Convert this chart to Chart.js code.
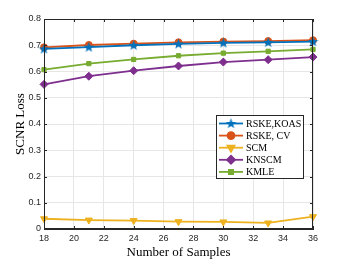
<!DOCTYPE html>
<html>
<head>
<meta charset="utf-8">
<script src="https://cdn.jsdelivr.net/npm/chart.js@4"></script>
<style>
  html, body { margin: 0; padding: 0; background: #fff; }
  #wrap { width: 346px; height: 260px; }
</style>
</head>
<body>
<div id="wrap"><canvas id="chart" width="346" height="260"></canvas></div>
<script>
// samples on the x axis
const samples = [18, 21, 24, 27, 30, 33, 36];
const seriesNames = ['RSKE,KOAS', 'RSKE, CV', 'SCM', 'KNSCM', 'KMLE'];
const rskeKoas = [0.686, 0.693, 0.700, 0.705, 0.709, 0.711, 0.714];
const rskeCv = [0.692, 0.701, 0.706, 0.711, 0.714, 0.716, 0.719];
const scm = [0.039, 0.034, 0.032, 0.028, 0.027, 0.023, 0.047];
const knscm = [0.551, 0.582, 0.603, 0.621, 0.636, 0.645, 0.655];
const kmle = [0.607, 0.630, 0.646, 0.660, 0.670, 0.677, 0.684];
const xTicks = [18, 20, 22, 24, 26, 28, 30, 32, 34, 36];
const yTicks = [0, 0.1, 0.2, 0.3, 0.4, 0.5, 0.6, 0.7, 0.8];

const colors = ['#0072BD', '#D95319', '#EDB120', '#7E2F8E', '#77AC30'];

// five point star as an image, chart.js has no pentagram
function makeStar(color) {
    const c = document.createElement('canvas');
    c.width = 11; c.height = 11;
    const g = c.getContext('2d');
    g.fillStyle = color;
    g.beginPath();
    for (let i = 0; i < 10; i++) {
        const r = i % 2 === 0 ? 5.5 : 2.3;
        const a = -Math.PI / 2 + i * Math.PI / 5;
        const px = 5.5 + r * Math.cos(a), py = 5.8 + r * Math.sin(a);
        if (i === 0) g.moveTo(px, py); else g.lineTo(px, py);
    }
    g.closePath();
    g.fill();
    return c;
}
const star = makeStar(colors[0]);

function toPts(arr) {
    return samples.map((s, i) => ({ x: s, y: arr[i] }));
}

const values = [rskeKoas, rskeCv, scm, knscm, kmle];
const styles = [star, 'circle', 'triangle', 'rectRot', 'rect'];
const rotations = [0, 0, 180, 0, 0];
const radii = [5, 3.5, 4, 4, 3];

const datasets = values.map((v, i) => ({
    label: seriesNames[i],
    data: toPts(v),
    borderColor: colors[i],
    backgroundColor: colors[i],
    borderWidth: 1.8,
    pointStyle: styles[i],
    pointRotation: rotations[i],
    pointRadius: radii[i],
    pointBorderWidth: 1,
    tension: 0,
    clip: false
}));

// box around the axes, inside ticks and the legend with line + marker
const matlabBox = {
    id: 'matlabBox',
    afterDraw(chart) {
        const ctx = chart.ctx;
        const a = chart.chartArea;
        const xs = chart.scales.x, ys = chart.scales.y;
        ctx.save();
        ctx.strokeStyle = '#262626';
        ctx.lineWidth = 1;
        ctx.strokeRect(a.left + 0.5, a.top + 0.5, a.right - a.left - 1, a.bottom - a.top - 1);
        ctx.beginPath();
        xTicks.forEach(t => {
            const px = Math.round(xs.getPixelForValue(t)) + 0.5;
            ctx.moveTo(px, a.bottom); ctx.lineTo(px, a.bottom - 3);
            ctx.moveTo(px, a.top); ctx.lineTo(px, a.top + 3);
        });
        yTicks.forEach(t => {
            const py = Math.round(ys.getPixelForValue(t)) + 0.5;
            ctx.moveTo(a.left, py); ctx.lineTo(a.left + 3, py);
            ctx.moveTo(a.right, py); ctx.lineTo(a.right - 3, py);
        });
        ctx.stroke();

        // legend
        const lx = 216.5, ly = 115.5, lw = 87, lh = 63;
        ctx.fillStyle = '#fff';
        ctx.fillRect(lx, ly, lw, lh);
        ctx.strokeStyle = '#262626';
        ctx.strokeRect(lx, ly, lw, lh);
        ctx.font = '10px "Liberation Serif", "Times New Roman", serif';
        ctx.textBaseline = 'middle';
        chart.data.datasets.forEach((ds, i) => {
            const yy = 123.5 + i * 12.1;
            ctx.strokeStyle = ds.borderColor;
            ctx.lineWidth = 1.8;
            ctx.beginPath();
            ctx.moveTo(219, yy); ctx.lineTo(243, yy);
            ctx.stroke();
            Chart.helpers.drawPoint(ctx, {
                pointStyle: ds.pointStyle,
                rotation: ds.pointRotation,
                radius: ds.pointRadius,
                borderWidth: 1
            }, 231, yy);
            ctx.fillStyle = ds.borderColor;
            ctx.fill();
            ctx.fillStyle = '#000';
            ctx.fillText(ds.label, 246, yy + 0.5);
        });
        ctx.restore();
    }
};

const tickFont = { family: '"Liberation Sans", Arial, Helvetica, sans-serif', size: 9 };
const titleFont = { family: '"Liberation Serif", "Times New Roman", serif', size: 13 };

new Chart(document.getElementById('chart').getContext('2d'), {
    type: 'line',
    data: { datasets: datasets },
    options: {
        responsive: false,
        animation: false,
        layout: { padding: { top: 19, right: 33, left: 0, bottom: 0 } },
        plugins: {
            legend: { display: false },
            tooltip: { enabled: false }
        },
        scales: {
            x: {
                type: 'linear',
                min: 18,
                max: 36,
                afterBuildTicks: s => { s.ticks = xTicks.map(v => ({ value: v })); },
                afterFit: s => { s.height = 31; },
                grid: { color: '#e6e6e6', drawTicks: false },
                border: { color: '#262626' },
                ticks: { color: '#262626', font: tickFont, padding: 4, maxRotation: 0 },
                title: { display: true, text: 'Number of Samples', color: '#000', font: titleFont, padding: 0 }
            },
            y: {
                min: 0,
                max: 0.8,
                afterBuildTicks: s => { s.ticks = yTicks.map(v => ({ value: v })); },
                afterFit: s => { s.width = 44; },
                grid: { color: '#e6e6e6', drawTicks: false },
                border: { color: '#262626' },
                ticks: {
                    color: '#262626', font: tickFont, padding: 3,
                    callback: v => v === 0 ? '0' : v.toFixed(1)
                },
                title: { display: true, text: 'SCNR Loss', color: '#000', font: titleFont, padding: { top: 13, bottom: 0 } }
            }
        }
    },
    plugins: [matlabBox]
});
</script>
</body>
</html>
